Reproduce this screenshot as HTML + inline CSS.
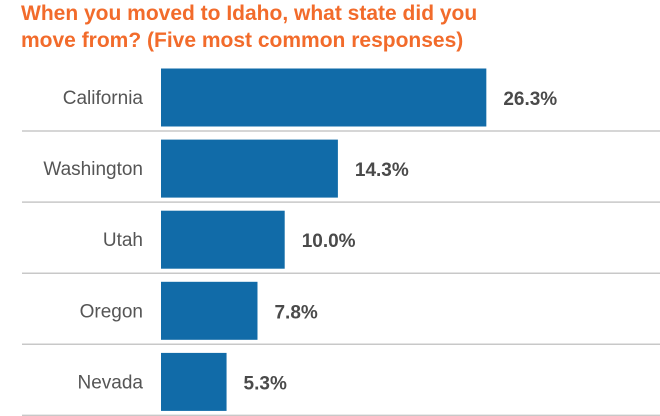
<!DOCTYPE html>
<html><head><meta charset="utf-8"><style>
body{margin:0;background:#fff;width:660px;height:416px;overflow:hidden;font-family:"Liberation Sans",sans-serif}
.t{position:absolute;left:21px;color:#f26b2b;font-weight:bold;font-size:21px;white-space:nowrap}
</style></head><body>
<div class="t" style="top:0px;line-height:27px">When you moved to Idaho, what state did you<br>move from? (Five most common responses)</div>
<svg id="c" width="660" height="416" style="position:absolute;left:0;top:0"></svg>
<script>
const categories=["California","Washington","Utah","Oregon","Nevada"];
const values=[26.3,14.3,10.0,7.8,5.3];
const labels=["26.3%","14.3%","10.0%","7.8%","5.3%"];
const svg=document.getElementById('c');
const NS='http://www.w3.org/2000/svg';
const x0=161,scale=12.37,rowTop=60,pitch=71.1;
function xs(v){return v*scale;}
function ys(i){return rowTop+i*pitch;}
categories.forEach((c,i)=>{
 const y=ys(i);
 const r=document.createElementNS(NS,'rect');
 
 
 r.setAttribute('x',x0);r.setAttribute('y',y+8.5);r.setAttribute('width',xs(values[i]));r.setAttribute('height',58);
 r.setAttribute('fill','#116ba8');svg.appendChild(r);
 const l=document.createElementNS(NS,'line');
 
 
 l.setAttribute('x1',22);l.setAttribute('x2',660);l.setAttribute('y1',y+71);l.setAttribute('y2',y+71);
 l.setAttribute('stroke','#c8c8c8');l.setAttribute('stroke-width',1.5);svg.appendChild(l);
 const t=document.createElementNS(NS,'text');
 
 
 t.setAttribute('x',143);t.setAttribute('y',y+44);t.setAttribute('text-anchor','end');
 t.setAttribute('font-size',19);t.setAttribute('fill','#555');t.setAttribute('font-family','Liberation Sans, sans-serif');
 t.textContent=c;svg.appendChild(t);
 const v=document.createElementNS(NS,'text');
 
 
 v.setAttribute('x',x0+xs(values[i])+17);v.setAttribute('y',y+45);
 v.setAttribute('font-size',19);v.setAttribute('font-weight','bold');v.setAttribute('fill','#4a4a4a');v.setAttribute('font-family','Liberation Sans, sans-serif');
 v.textContent=labels[i];svg.appendChild(v);
});
</script>
</body></html>
